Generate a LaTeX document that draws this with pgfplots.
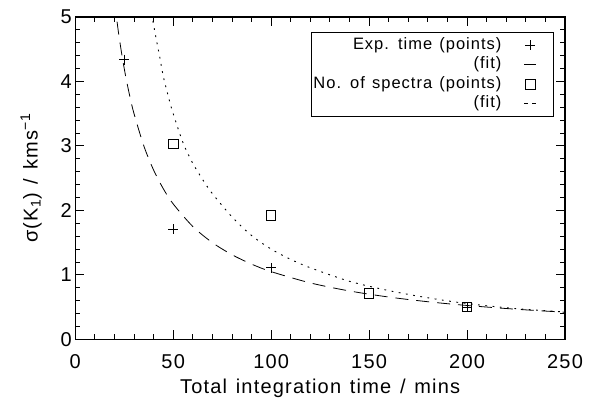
\documentclass[border=0pt]{standalone}
\usepackage{fontspec}
\setmainfont{Liberation Sans}[LetterSpace=6, WordSpace=1.3]
\usepackage{pgfplots}
\pgfplotsset{compat=1.18}

\pgfplotsset{
    pointleg/.style={legend image code/.code={%
        \path[draw=none] (0pt,0pt) (50pt,0pt);
        \draw[##1] plot coordinates {(28pt,0pt)};}},
    solidleg/.style={legend image code/.code={%
        \path[draw=none] (0pt,0pt) (50pt,0pt);
        \draw[##1, solid] (22pt,0pt) -- (34pt,0pt);}},
    dashleg/.style={legend image code/.code={%
        \path[draw=none] (0pt,0pt) (50pt,0pt);
        \draw[##1, dash pattern=on 4pt off 4pt] (22pt,0pt) -- (34pt,0pt);}},
}

\begin{document}
\begin{tikzpicture}
\begin{axis}[
    name=ax,
    scale only axis,
    width=490pt, height=322.5pt,
    xmin=0, xmax=250, ymin=0, ymax=5,
    xtick={0,50,...,250}, ytick={0,1,...,5},
    minor x tick num=4, minor y tick num=4,
    tick align=inside,
    major tick length=9pt, minor tick length=5pt,
    every tick/.style={black, line width=0.9pt},
    axis line style={line width=1.2pt},
    /pgf/number format/assume math mode=true,
    ticklabel style={font=\fontsize{20}{22}\selectfont},
    xticklabel style={yshift=-12pt},
    label style={font=\fontsize{20}{22}\selectfont},
    xlabel={Total integration time / mins},
    xlabel style={inner sep=0pt, yshift=-6pt},
    ylabel={σ(K\textsubscript{1}) / kms\textsuperscript{−1}},
    ylabel style={yshift=12pt},
    legend plot pos=right,
    legend cell align=right,
    legend style={at={(0.977,0.953)}, anchor=north east,
        font=\fontsize{16.5}{18}\selectfont, draw=black, line width=0.8pt,
        inner xsep=1pt, inner ysep=3pt, row sep=0pt,
        nodes={inner sep=1pt, text height=12.5pt, text depth=5pt}},
]
% exposure time points
\addplot[only marks, mark=+, mark size=5pt, line width=1.1pt, pointleg]
    coordinates {(25,4.34) (50,1.71) (100,1.11) (200,0.50)};
\addlegendentry{Exp. time (points)}

% exposure time fit
\addplot[line width=0.8pt, dash pattern=on 13pt off 8pt, smooth, solidleg]
    coordinates {
    (20,5.25) (22,4.773) (24,4.375) (26,4.038) (28,3.75) (30,3.5)
    (35,3.0) (40,2.625) (45,2.333) (50,2.1) (60,1.75) (70,1.5)
    (80,1.3125) (90,1.1667) (100,1.05) (120,0.875) (140,0.75)
    (160,0.656) (180,0.583) (200,0.525) (225,0.467) (250,0.42)};
\addlegendentry{(fit)}

% number of spectra points
\addplot[only marks, mark=square, mark size=4.7pt, line width=0.8pt, pointleg]
    coordinates {(50,3.03) (100,1.92) (150,0.71) (200,0.50)};
\addlegendentry{No. of spectra (points)}

% number of spectra fit
\addplot[line width=0.9pt, dash pattern=on 1.8pt off 5.5pt, smooth, dashleg]
    coordinates {
    (39,5.05) (41,4.71) (43,4.40) (45,4.07) (48,3.71) (50,3.50)
    (55,3.05) (60,2.73) (65,2.48) (70,2.26) (80,1.90) (90,1.61)
    (100,1.40) (110,1.24) (120,1.11) (140,0.90) (160,0.756)
    (180,0.644) (200,0.555) (225,0.476) (250,0.424)};
\addlegendentry{(fit)}
\end{axis}
\path ([shift={(-75.3pt,-64pt)}]ax.south west) rectangle ([shift={(29pt,17pt)}]ax.north east);
\end{tikzpicture}
\end{document}
